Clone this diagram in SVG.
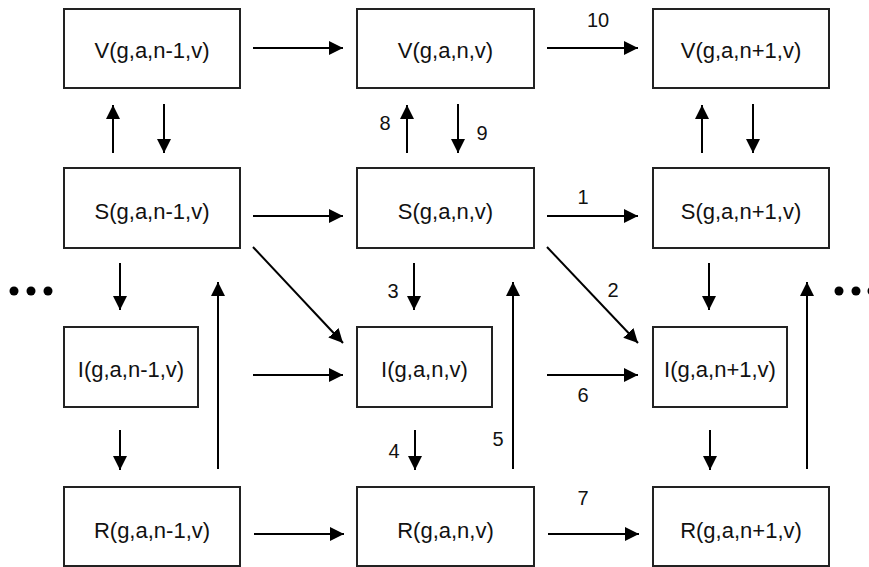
<svg xmlns="http://www.w3.org/2000/svg" width="869" height="567" viewBox="0 0 869 567">
<style>
.box{fill:#fff;stroke:#222;stroke-width:2}
.nt{font-family:"Liberation Sans",Arial,sans-serif;font-size:22px;fill:#111;text-anchor:middle}
.lb{font-family:"Liberation Sans",Arial,sans-serif;font-size:20px;fill:#111;text-anchor:middle}
.ar{stroke:#000;stroke-width:2;fill:none;marker-end:url(#ah)}
</style>
<defs>
<marker id="ah" markerUnits="userSpaceOnUse" markerWidth="15" markerHeight="14" refX="14" refY="7" orient="auto" viewBox="0 0 15 14">
<path d="M0,0 L14,7 L0,14 Z" fill="#000"/>
</marker>
</defs>
<rect width="869" height="567" fill="#fff"/>
<g id="V1"><rect class="box" x="64" y="9" width="176" height="79"/><text class="nt" x="152" y="58">V(g,a,n-1,v)</text></g>
<g id="V2"><rect class="box" x="357" y="9" width="177" height="79"/><text class="nt" x="445.5" y="58">V(g,a,n,v)</text></g>
<g id="V3"><rect class="box" x="653" y="9" width="176" height="79"/><text class="nt" x="741" y="58">V(g,a,n+1,v)</text></g>
<g id="S1"><rect class="box" x="64" y="168" width="176" height="80"/><text class="nt" x="152" y="219">S(g,a,n-1,v)</text></g>
<g id="S2"><rect class="box" x="357" y="168" width="177" height="80"/><text class="nt" x="445.5" y="219">S(g,a,n,v)</text></g>
<g id="S3"><rect class="box" x="653" y="168" width="176" height="80"/><text class="nt" x="741" y="219">S(g,a,n+1,v)</text></g>
<g id="I1"><rect class="box" x="64" y="327" width="134" height="80"/><text class="nt" x="131" y="377">I(g,a,n-1,v)</text></g>
<g id="I2"><rect class="box" x="357" y="327" width="135" height="80"/><text class="nt" x="424.5" y="377">I(g,a,n,v)</text></g>
<g id="I3"><rect class="box" x="653" y="327" width="134" height="80"/><text class="nt" x="720" y="377">I(g,a,n+1,v)</text></g>
<g id="R1"><rect class="box" x="64" y="487" width="176" height="79"/><text class="nt" x="152" y="538">R(g,a,n-1,v)</text></g>
<g id="R2"><rect class="box" x="357" y="487" width="177" height="79"/><text class="nt" x="445.5" y="538">R(g,a,n,v)</text></g>
<g id="R3"><rect class="box" x="653" y="487" width="176" height="79"/><text class="nt" x="741" y="538">R(g,a,n+1,v)</text></g>
<g id="connectors">
<line class="ar" x1="253" y1="48" x2="343" y2="48"/>
<line class="ar" x1="547" y1="48" x2="638" y2="48"/>
<line class="ar" x1="113" y1="153" x2="113" y2="105"/>
<line class="ar" x1="164" y1="104" x2="164" y2="153"/>
<line class="ar" x1="407" y1="153" x2="407" y2="105"/>
<line class="ar" x1="458" y1="104" x2="458" y2="153"/>
<line class="ar" x1="702" y1="153" x2="702" y2="105"/>
<line class="ar" x1="753" y1="104" x2="753" y2="153"/>
<line class="ar" x1="253" y1="216" x2="343" y2="216"/>
<line class="ar" x1="547" y1="216" x2="638" y2="216"/>
<line class="ar" x1="253" y1="247" x2="343" y2="343"/>
<line class="ar" x1="547" y1="247" x2="638" y2="343"/>
<line class="ar" x1="120" y1="263" x2="120" y2="310"/>
<line class="ar" x1="414" y1="263" x2="414" y2="310"/>
<line class="ar" x1="709" y1="263" x2="709" y2="310"/>
<line class="ar" x1="218" y1="469" x2="218" y2="282"/>
<line class="ar" x1="513" y1="469" x2="513" y2="282"/>
<line class="ar" x1="807" y1="469" x2="807" y2="282"/>
<line class="ar" x1="253" y1="375" x2="343" y2="375"/>
<line class="ar" x1="547" y1="375" x2="638" y2="375"/>
<line class="ar" x1="120" y1="430" x2="120" y2="470"/>
<line class="ar" x1="415" y1="430" x2="415" y2="470"/>
<line class="ar" x1="710" y1="430" x2="710" y2="470"/>
<line class="ar" x1="254" y1="534" x2="344" y2="534"/>
<line class="ar" x1="548" y1="534" x2="639" y2="534"/>
</g>
<g id="labels">
<text class="lb" x="598" y="27">10</text>
<text class="lb" x="385" y="130">8</text>
<text class="lb" x="482" y="140">9</text>
<text class="lb" x="583" y="204">1</text>
<text class="lb" x="613" y="297">2</text>
<text class="lb" x="393" y="298">3</text>
<text class="lb" x="583" y="402">6</text>
<text class="lb" x="394" y="458">4</text>
<text class="lb" x="498" y="446">5</text>
<text class="lb" x="583" y="505">7</text>
</g>
<g id="ellipsis" fill="#000">
<circle cx="14" cy="291" r="4.5"/><circle cx="31" cy="291" r="4.5"/><circle cx="48" cy="291" r="4.5"/>
<circle cx="839" cy="291" r="4.5"/><circle cx="856" cy="291" r="4.5"/><circle cx="872" cy="291" r="4.5"/>
</g>
</svg>
